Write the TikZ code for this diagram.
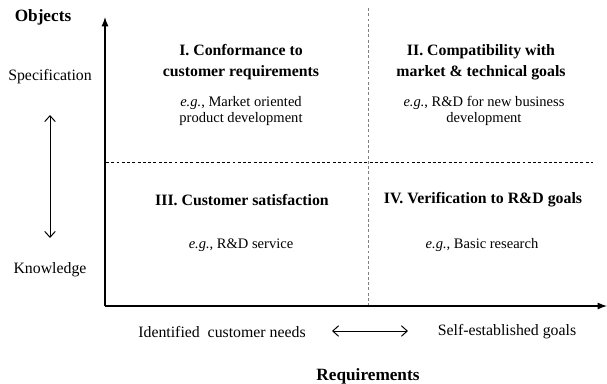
\documentclass[tikz,border=0pt]{standalone}
\usepackage{fontspec}
\setmainfont{Liberation Serif}
\usetikzlibrary{arrows.meta}

\def\xmid{368}

\begin{document}
\begin{tikzpicture}[x=0.03cm,y=-0.03cm,line width=0.2mm,font=\fontsize{13.5}{16}\selectfont]
    \tikzstyle{axis}=[-{Latex[length=8pt,width=6pt]},line width=0.35mm]
    \tikzstyle{both way}=[{Straight Barb[length=5pt,width=9pt]}-{Straight Barb[length=5pt,width=9pt]},line width=0.3mm]
    \tikzstyle{divider}=[dashed,dash pattern=on 2.5pt off 2pt,line width=0.2mm]
    \tikzstyle{axis title}=[font=\bfseries\fontsize{14.7}{17}\selectfont]
    \tikzstyle{quad title}=[align=center,font=\bfseries\fontsize{13.5}{17.9}\selectfont]
    \tikzstyle{quad example}=[align=center,font=\fontsize{12.4}{14.3}\selectfont]

    \useasboundingbox (0,0) rectangle (607,383);

    % Axes
    \coordinate (O) at (105,306);
    \coordinate (ytop) at (105,17);
    \coordinate (xend) at (607,306);
    \draw[axis] (O) -- (ytop);
    \draw[axis] (O) -- (xend);

    % Quadrant dividers
    \coordinate (vtop) at (\xmid,8);
    \coordinate (vbot) at (\xmid,305);
    \coordinate (hleft) at (106,162);
    \coordinate (hright) at (593,162);
    \draw[divider,gray] (vtop) -- (vbot);
    \draw[divider] (hleft) -- (hright);

    % Vertical axis labels
    \node[axis title] (obj) at (43,17) {Objects};
    \node (spec) at (50,77) {Specification};
    \node (know) at (50,270) {Knowledge};
    \coordinate (sk-a) at (50,115);
    \coordinate (sk-b) at (50,238);
    \draw[both way] (sk-a) -- (sk-b);

    % Horizontal axis labels
    \node (need) at (222,332) {Identified~ customer needs};
    \node (self) at (507,332) {Self-established goals};
    \coordinate (ns-a) at (332,331);
    \coordinate (ns-b) at (408,331);
    \draw[both way] (ns-a) -- (ns-b);
    \node[axis title] (req) at (368,376) {Requirements};

    % Quadrants
    \node[quad title] (q1) at (241,62) {I. Conformance to\\customer requirements};
    \node[quad example] (q1e) at (241,111) {\emph{e.g.}, Market oriented\\product development};
    \node[quad title] (q2) at (481,62) {II. Compatibility with\\market \& technical goals};
    \node[quad example] (q2e) at (484,111) {\emph{e.g.}, R\&D for new business\\development};
    \node[quad title] (q3) at (242,200) {III. Customer satisfaction};
    \node[quad example] (q3e) at (241,245) {\emph{e.g.}, R\&D service};
    \node[quad title] (q4) at (483,200) {IV. Verification to R\&D goals};
    \node[quad example] (q4e) at (482,245) {\emph{e.g.}, Basic research};
\end{tikzpicture}
\end{document}
